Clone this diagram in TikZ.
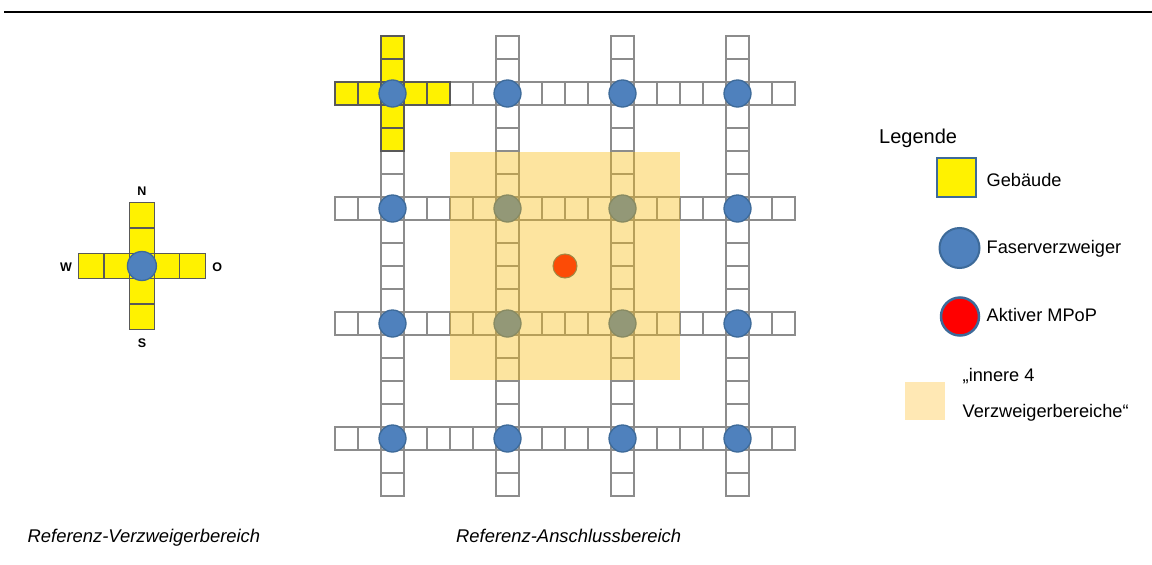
\documentclass[tikz,border=0pt]{standalone}
\usepackage{fontspec}
\setmainfont{Liberation Sans}
\usetikzlibrary{positioning}
\definecolor{splitblue}{HTML}{4F81BD}
\definecolor{splitedge}{HTML}{3D6A99}
\definecolor{gridgray}{HTML}{8C8C8C}
\definecolor{zoneyellow}{HTML}{F9BC10}
\definecolor{legbeige}{HTML}{FFE8B4}
\begin{document}
\begin{tikzpicture}[x=1pt, y=-1pt,
  cell/.style={draw=gridgray, line width=1.4pt, fill=white},
  house/.style={draw=black!65, line width=1.2pt, fill=yellow},
  splitter/.style={circle, draw=splitedge, line width=1.3pt, fill=splitblue, inner sep=0pt, minimum size=#1},
  splitter/.default=27pt,
  dirlabel/.style={font=\fontsize{12.5}{13}\selectfont\bfseries},
  legtext/.style={anchor=base west, inner sep=0pt, font=\fontsize{18.2}{20}\selectfont},
  captext/.style={anchor=base west, inner sep=0pt, font=\fontsize{18.4}{20}\selectfont\itshape}]
  \useasboundingbox (0,0) rectangle (1152,565);
  \draw[line width=1.7pt] (4,11.8) -- (1152,11.8);

  \foreach \k in {0,...,4} {
    \draw[house] ({78.65+25.3*\k},253.35) rectangle +(25.3,25.3);
    \draw[house] (129.25,{202.75+25.3*\k}) rectangle +(25.3,25.3);
  }
  \node[splitter=29pt] (refsplit) at (141.9,266) {};
  \node[dirlabel] (north) at (142,190.7) {N};
  \node[dirlabel] (south) at (142,342.7) {S};
  \node[dirlabel] (west) at (66,266.7) {W};
  \node[dirlabel] (east) at (217.3,266.7) {O};

  \foreach \r in {2,7,12,17}
    \foreach \k in {0,...,19} {
      \draw[cell] ({335+23*\k},{36+23*\r}) rectangle +(23,23);
      \draw[cell] ({335+23*\r},{36+23*\k}) rectangle +(23,23);
    }
  \foreach \k in {0,...,4} {
    \draw[house] ({335+23*\k},82) rectangle +(23,23);
    \draw[house] (381,{36+23*\k}) rectangle +(23,23);
  }
  \foreach \c in {0,...,3}
    \foreach \r in {0,...,3}
      \node[splitter] (fv\c\r) at ({392.5+115*\c},{93.5+115*\r}) {};
  \node[circle, draw=black!60, line width=1pt, fill=red, inner sep=0pt, minimum size=24pt] (mpop) at (565,266) {};
  \fill[zoneyellow, opacity=0.4] (450,152) rectangle (680,380);

  \node[anchor=base west, inner sep=0pt, font=\fontsize{20}{22}\selectfont] (legtitle) at (879,143.3) {Legende};
  \node[draw=splitedge, line width=2.2pt, fill=yellow, minimum size=39pt, inner sep=0pt] (leghouse) at (956.7,177.2) {};
  \node[legtext] (txthouse) at (986.5,186) {Gebäude};
  \node[splitter=40pt, line width=2pt] (legsplit) at (959.5,248) {};
  \node[legtext] (txtsplit) at (986.5,253.3) {Faserverzweiger};
  \node[circle, draw=splitedge, line width=2.5pt, fill=red, inner sep=0pt, minimum size=38pt] (legmpop) at (960,316.5) {};
  \node[legtext] (txtmpop) at (986.5,321.7) {Aktiver MPoP};
  \node[fill=legbeige, minimum width=40pt, minimum height=38pt, inner sep=0pt] (legzone) at (925,401) {};
  \node[legtext] (txtzone1) at (962.5,381.7) {„innere 4};
  \node[legtext] (txtzone2) at (962.5,417.7) {Verzweigerbereiche“};

  \node[captext] (capleft) at (27.5,542.7) {Referenz-Verzweigerbereich};
  \node[captext] (capright) at (456,542.7) {Referenz-Anschlussbereich};
\end{tikzpicture}
\end{document}
